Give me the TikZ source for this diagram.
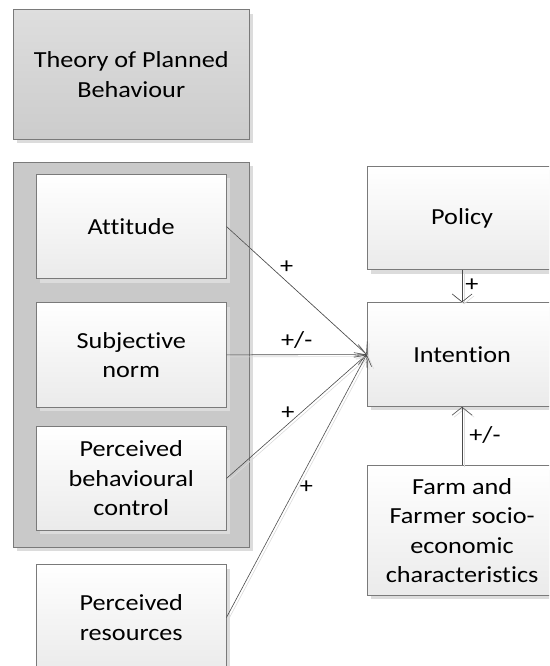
\documentclass[tikz,border=0pt]{standalone}
\usepackage{fontspec}
\setmainfont{Carlito}[FakeStretch=1.14, Ligatures={NoCommon}]
\usetikzlibrary{arrows.meta,shadows}
\definecolor{edgegray}{HTML}{7A7A7A}
\definecolor{linegray}{HTML}{4A4A4A}
\definecolor{shadowgray}{HTML}{DCDCDC}
\begin{document}
\begin{tikzpicture}[x=1pt,y=-1pt,
  every node/.style={font=\fontsize{23}{29.5}\selectfont, text=black},
  box/.style={draw=edgegray, line width=0.8pt, top color=white, bottom color=black!8,
    align=center, anchor=north west, inner sep=0pt,
    drop shadow={shadow xshift=4pt, shadow yshift=-4pt, fill=shadowgray, opacity=1}},
  graybox/.style={box, top color=black!13, bottom color=black!20},
  groupbox/.style={draw=edgegray, line width=0.8pt, fill=black!21, anchor=north west, inner sep=0pt,
    drop shadow={shadow xshift=4pt, shadow yshift=-4pt, fill=shadowgray, opacity=1}},
  conn/.style={draw=linegray, line width=0.6pt,
    preaction={draw=black!14, line width=0.6pt, transform canvas={shift={(2pt,-2pt)}}}},
  arr/.style={conn, -{Straight Barb[length=8pt,width=20pt]}},
  lbl/.style={inner sep=0pt}
]
\useasboundingbox (0,0) rectangle (549,666);
\clip (0,0) rectangle (549,666);

\node[graybox, minimum width=236.3pt, minimum height=129.7pt] (tpb) at (12.7,9.3) {Theory of Planned\\Behaviour};

\node[groupbox, minimum width=236.3pt, minimum height=385pt] (grp) at (12.7,161.7) {};

\node[box, minimum width=189.7pt, minimum height=104.3pt] (att) at (36,174) {Attitude};
\node[box, minimum width=189.7pt, minimum height=104.3pt] (sn) at (36,302.3) {Subjective\\norm};
\node[box, minimum width=189.7pt, minimum height=104pt] (pbc) at (36,426) {Perceived\\behavioural\\control};
\node[box, minimum width=189.7pt, minimum height=105.4pt] (res) at (36,564.3) {Perceived\\resources};

\node[box, minimum width=190pt, minimum height=103.6pt] (pol) at (366.7,165.7) {Policy};
\node[box, minimum width=190pt, minimum height=103.7pt] (int) at (366.7,302.3) {Intention};
\node[box, minimum width=190pt, minimum height=129.4pt] (farm) at (366.7,465.3) {Farm and\\Farmer socio-\\economic\\characteristics};

\draw[arr] (att.east) -- (int.west);
\draw[arr] (sn.east) -- (int.west);
\draw[arr] (pbc.east) -- (int.west);
\draw[arr] (res.east) -- (int.west);
\draw[arr] (pol.south) -- (int.north);
\draw[arr] (farm.north) -- (int.south);

\node[lbl] (l1) at (286.7,266.7) {+};
\node[lbl] (l2) at (296.7,340) {+/-};
\node[lbl] (l3) at (288,413) {+};
\node[lbl] (l4) at (306.4,487) {+};
\node[lbl] (l5) at (472,285) {+};
\node[lbl] (l6) at (485,435) {+/-};
\end{tikzpicture}
\end{document}
